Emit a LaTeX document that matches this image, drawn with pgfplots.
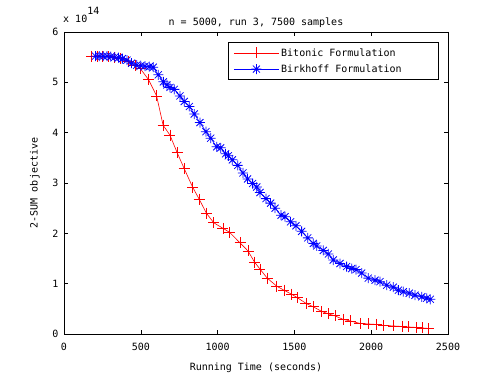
\documentclass[border=0pt]{standalone}
\usepackage{fontspec}
\setmainfont{DejaVu Sans Mono}
\usepackage{pgfplots}
\pgfplotsset{compat=1.18}

% MATLAB-style asterisk: plus and cross together
\pgfdeclareplotmark{matast}{%
  \pgfpathmoveto{\pgfqpoint{-\pgfplotmarksize}{0pt}}%
  \pgfpathlineto{\pgfqpoint{\pgfplotmarksize}{0pt}}%
  \pgfpathmoveto{\pgfqpoint{0pt}{-\pgfplotmarksize}}%
  \pgfpathlineto{\pgfqpoint{0pt}{\pgfplotmarksize}}%
  \pgfpathmoveto{\pgfqpoint{-0.707\pgfplotmarksize}{-0.707\pgfplotmarksize}}%
  \pgfpathlineto{\pgfqpoint{0.707\pgfplotmarksize}{0.707\pgfplotmarksize}}%
  \pgfpathmoveto{\pgfqpoint{-0.707\pgfplotmarksize}{0.707\pgfplotmarksize}}%
  \pgfpathlineto{\pgfqpoint{0.707\pgfplotmarksize}{-0.707\pgfplotmarksize}}%
  \pgfusepathqstroke}

\begin{document}
\fontsize{10bp}{12bp}\selectfont
\begin{tikzpicture}
\begin{axis}[
  name=main,
  at={(64bp,41bp)}, anchor=south west,
  scale only axis, width=384bp, height=302bp,
  xmin=0, xmax=2500, ymin=0, ymax=6,
  xtick={0,500,...,2500}, ytick={0,1,...,6},
  tick align=inside, major tick length=4bp,
  axis line style={line width=0.8bp},
  every tick/.style={black, line width=0.6bp},
  /pgf/number format/assume math mode=true,
  /pgf/number format/1000 sep={},
  tick label style={font=\fontsize{10bp}{12bp}\selectfont},
  yticklabel style={xshift=-2bp},
  xticklabel style={yshift=-6bp},
  title={n = 5000, run 3, 7500 samples},
  title style={font=\fontsize{10bp}{12bp}\selectfont, yshift=-5bp},
  xlabel={Running Time (seconds)},
  ylabel={2-SUM objective},
  label style={font=\fontsize{10bp}{12bp}\selectfont},
  xlabel style={yshift=-5bp},
  ylabel style={yshift=6bp},
  legend cell align=left,
  legend style={at={(rel axis cs:0.9766,0.967)}, anchor=north east,
    draw=black, line width=0.8bp, font=\fontsize{10bp}{12bp}\selectfont,
    row sep=3bp, inner xsep=5bp, inner ysep=4bp},
  legend image code/.code={%
    \draw[mark repeat=2,mark phase=2,#1] plot coordinates {(0bp,0bp) (22.5bp,0bp) (45bp,0bp)};},
]
\addplot[red, line width=0.6bp, mark=+, mark size=5.5bp,
  mark options={line width=0.8bp}] coordinates {
(180,5.52) (215,5.52) (250,5.52) (290,5.51) (330,5.50) (370,5.48)
(419,5.41) (462,5.34) (495,5.28) (549,5.06) (603,4.73) (645,4.15)
(690,3.95) (737,3.60) (782,3.29) (837,2.92) (880,2.68) (927,2.40)
(975,2.21) (1035,2.10) (1078,2.02) (1146,1.81) (1198,1.65) (1240,1.43)
(1276,1.29) (1323,1.11) (1385,0.95) (1432,0.87) (1482,0.79) (1520,0.72)
(1575,0.61) (1623,0.54) (1677,0.45) (1721,0.40) (1764,0.36) (1818,0.29)
(1862,0.26) (1927,0.21) (1981,0.20) (2035,0.19) (2080,0.17) (2145,0.16)
(2200,0.15) (2243,0.14) (2297,0.13) (2335,0.12) (2375,0.11)
};
\addlegendentry{Bitonic Formulation\hspace*{30bp}}
\addplot[blue, line width=0.6bp, mark=matast, mark size=5bp,
  mark options={line width=0.8bp}] coordinates {
(205,5.52) (230,5.52) (255,5.52) (280,5.52) (305,5.51) (330,5.50)
(355,5.49) (380,5.47) (410,5.44) (440,5.38) (473,5.34) (500,5.33)
(527,5.32) (555,5.31) (581,5.30) (614,5.15) (647,5.01) (670,4.95)
(690,4.90) (718,4.86) (755,4.73) (783,4.62) (816,4.52) (848,4.37)
(885,4.20) (924,4.02) (955,3.89) (994,3.72) (1020,3.70) (1052,3.58)
(1070,3.54) (1096,3.46) (1131,3.35) (1165,3.20) (1195,3.08) (1228,2.99)
(1255,2.92) (1276,2.81) (1315,2.69) (1345,2.60) (1374,2.50) (1413,2.36)
(1439,2.33) (1475,2.23) (1510,2.15) (1547,2.04) (1587,1.91) (1623,1.80)
(1645,1.75) (1688,1.66) (1721,1.59) (1753,1.47) (1797,1.40) (1840,1.34)
(1873,1.30) (1901,1.28) (1938,1.21) (1981,1.11) (2025,1.07) (2057,1.04)
(2101,0.97) (2144,0.93) (2177,0.87) (2209,0.84) (2248,0.81) (2285,0.77)
(2329,0.74) (2361,0.71) (2385,0.69)
};
\addlegendentry{Birkhoff Formulation\hspace*{30bp}}
\end{axis}
\node[anchor=base west, inner sep=0pt, font=\fontsize{10bp}{12bp}\selectfont]
  at ([xshift=-1bp, yshift=9bp]main.north west) {x 10\raisebox{1.6ex}{14}};
\pgfresetboundingbox
\path[use as bounding box] (0,0) rectangle (495bp,375bp);
\end{tikzpicture}
\end{document}
